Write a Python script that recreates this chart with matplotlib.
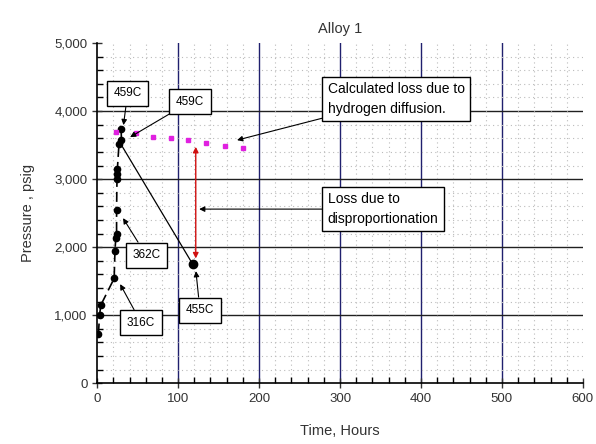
import matplotlib.pyplot as plt
from matplotlib.ticker import MultipleLocator, FuncFormatter

plt.rcParams['font.family'] = ['Liberation Sans', 'DejaVu Sans']

# heating run (black, dashed)
heat_t = [1.6, 3, 4.5, 21, 22, 23, 24, 24, 24.5, 25, 25, 27, 30, 29.6]
heat_p = [730, 1000, 1147, 1540, 1946, 2130, 2200, 2544, 3000, 3080, 3150, 3520, 3580, 3730]
# cooling (thin solid)
cool_t = [28, 118]
cool_p = [3540, 1750]
# calculated loss due to hydrogen diffusion (magenta)
calc_t = [23.5, 48, 68.7, 91, 112.7, 135, 158, 180.6]
calc_p = [3696, 3672, 3622, 3607, 3573, 3525, 3490, 3460]

fig = plt.figure(figsize=(5.96, 4.44), dpi=100)
ax = fig.add_axes([0.163, 0.137, 0.815, 0.766])

ax.set_xlim(0, 600)
ax.set_ylim(0, 5000)
ax.xaxis.set_major_locator(MultipleLocator(100))
ax.xaxis.set_minor_locator(MultipleLocator(20))
ax.yaxis.set_major_locator(MultipleLocator(1000))
ax.yaxis.set_minor_locator(MultipleLocator(200))
ax.yaxis.set_major_formatter(FuncFormatter(lambda v, p: f'{int(v):,}'))

ax.grid(which='minor', color='#bbbbbb', linestyle=(0, (1, 3)), linewidth=0.8)
for xv in range(100, 600, 100):
    ax.axvline(xv, color='#20206e', linewidth=1.0, zorder=1)
for yv in range(1000, 5000, 1000):
    ax.axhline(yv, color='#202020', linewidth=1.0, zorder=1)

for s in ['top', 'right']:
    ax.spines[s].set_visible(False)
ax.spines['left'].set_linewidth(1.2)
ax.spines['bottom'].set_linewidth(1.2)
ax.tick_params(which='major', direction='inout', length=7, width=1, labelsize=9.5, colors='#333333')
ax.tick_params(which='minor', direction='in', length=4, width=1)

ax.plot(heat_t, heat_p, color='black', linestyle=(0, (6, 3)), linewidth=1.2,
        marker='o', markersize=4.5, zorder=4)
ax.plot(cool_t, cool_p, color='black', linewidth=0.9, zorder=3)
ax.plot(cool_t[1:], cool_p[1:], 'o', color='black', markersize=6, zorder=4)
ax.plot(calc_t, calc_p, 's', color='#e020e0', markersize=3.5, zorder=4)

ax.annotate('', xy=(121.8, 1833), xytext=(121.8, 3475),
            arrowprops=dict(arrowstyle='<|-|>', color='#d01010', lw=1.0,
                            mutation_scale=8, shrinkA=0, shrinkB=0), zorder=5)

box = dict(boxstyle='square,pad=0.55', fc='white', ec='black', lw=1.0)
arrow = dict(arrowstyle='-|>', color='black', lw=0.8, mutation_scale=8,
             shrinkA=0, shrinkB=0)

labels = [
    ('459C', (32.5, 3794), (37.7, 4265)),
    ('459C', (40.7, 3617), (114.8, 4137)),
    ('362C', (32, 2426), (60.5, 1882)),
    ('316C', (28.4, 1456), (54.3, 890)),
    ('455C', (122, 1647), (127, 1074)),
]
for txt, tip, pos in labels:
    ax.annotate(txt, xy=tip, xytext=pos, fontsize=8.5, ha='center', va='center',
                bbox=box, arrowprops=arrow, zorder=6)

big = dict(boxstyle='square,pad=0.4', fc='white', ec='black', lw=1.0)
ax.annotate('Calculated loss due to\nhydrogen diffusion.', xy=(172.8, 3573),
            xytext=(285, 4176), fontsize=10, ha='left', va='center',
            bbox=big, arrowprops=arrow, zorder=6, linespacing=1.5)
ax.annotate('Loss due to\ndisproportionation', xy=(126, 2559),
            xytext=(285, 2559), fontsize=10, ha='left', va='center',
            bbox=big, arrowprops=arrow, zorder=6, linespacing=1.5)

ax.set_title('Alloy 1', fontsize=10.5, color='#333333', pad=7)
ax.set_xlabel('Time, Hours', fontsize=10.5, color='#333333', labelpad=14)
ax.set_ylabel('Pressure , psig', fontsize=10.5, color='#333333', labelpad=14)

fig.savefig('out.png', dpi=100)
